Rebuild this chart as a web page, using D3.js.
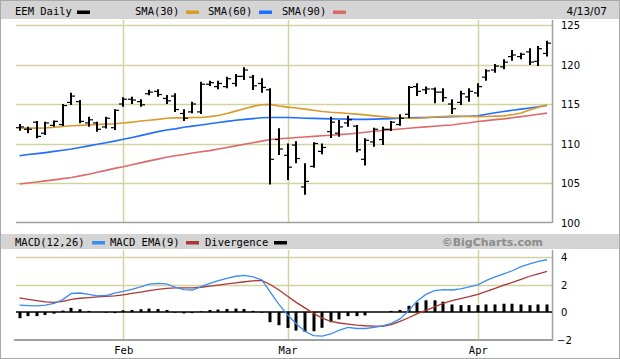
<!DOCTYPE html>
<html><head><meta charset="utf-8">
<script src="https://cdn.jsdelivr.net/npm/d3@7"></script>
<style>html,body{margin:0;padding:0;background:#fff}svg{display:block}</style>
</head><body><svg id="c" width="620" height="359"></svg>
<script>
// ---------- DATA ----------
const dates = [
 "2007-01-16","2007-01-17","2007-01-18","2007-01-19","2007-01-22","2007-01-23","2007-01-24","2007-01-25","2007-01-26","2007-01-29","2007-01-30","2007-01-31",
 "2007-02-01","2007-02-02","2007-02-05","2007-02-06","2007-02-07","2007-02-08","2007-02-09","2007-02-12","2007-02-13","2007-02-14","2007-02-15","2007-02-16","2007-02-20","2007-02-21","2007-02-22","2007-02-23","2007-02-26","2007-02-27","2007-02-28",
 "2007-03-01","2007-03-02","2007-03-05","2007-03-06","2007-03-07","2007-03-08","2007-03-09","2007-03-12","2007-03-13","2007-03-14","2007-03-15","2007-03-16","2007-03-19","2007-03-20","2007-03-21","2007-03-22","2007-03-23","2007-03-26","2007-03-27","2007-03-28","2007-03-29","2007-03-30",
 "2007-04-02","2007-04-03","2007-04-04","2007-04-05","2007-04-09","2007-04-10","2007-04-11","2007-04-12","2007-04-13"];
const open  = [112.0,111.8,112.7,111.3,112.3,112.4,115.2,115.3,112.6,112.6,112.1,112.0,
 115.0,115.6,115.3,116.3,116.6,115.7,116.0,113.8,114.0,114.0,117.5,117.2,117.2,117.6,118.5,118.4,117.6,116.8,110.5,
 108.5,109.8,104.5,107.1,109.0,111.5,111.3,112.6,112.2,108.0,110.2,110.5,111.8,112.4,113.7,117.2,116.8,116.9,116.5,115.0,115.2,115.9,
 116.4,118.4,119.3,119.7,121.0,121.0,121.6,120.4,121.4];
const high  = [112.47,112.13,112.85,112.76,112.9,115.0,116.43,115.5,113.4,112.76,113.4,114.33,
 115.85,115.92,115.6,116.8,116.86,116.14,116.35,114.33,115.3,117.82,117.95,117.95,118.46,118.8,119.65,118.67,118.25,117.0,111.92,
 110.0,110.3,107.5,110.15,110.0,113.4,112.97,113.52,112.34,110.66,112.0,112.13,112.85,113.7,117.28,117.62,117.2,117.1,116.99,115.6,116.68,116.99,
 117.62,119.39,120.06,120.66,121.84,121.49,122.05,122.34,123.0];
const low   = [111.6,111.29,110.66,111.08,112.13,112.2,114.87,112.56,112.13,111.5,111.9,111.7,
 114.66,115.0,114.66,116.1,115.92,115.0,114.0,112.85,113.82,113.73,117.28,116.86,116.99,117.2,118.04,116.77,116.43,104.8,108.54,
 105.38,107.5,103.5,106.94,108.63,110.7,110.86,112.13,108.9,107.2,109.6,109.8,111.58,112.25,113.19,116.01,116.27,115.08,115.3,113.73,114.87,115.3,
 115.92,117.95,118.96,119.39,120.48,120.66,119.94,119.8,121.0];
const close = [112.1,111.8,110.9,112.6,112.8,114.8,116.0,112.8,113.0,111.8,113.2,114.2,
 115.6,115.5,114.9,116.5,116.2,115.4,114.3,113.2,115.0,117.5,117.7,117.6,118.2,118.5,119.3,117.3,117.1,108.0,109.3,
 107.0,108.1,105.2,110.0,109.5,112.7,112.1,113.0,109.2,110.4,111.8,111.8,112.7,113.2,117.1,116.6,116.9,116.5,115.8,114.4,116.3,116.6,
 117.2,119.2,119.8,120.3,121.2,121.3,120.3,122.0,122.7];
const sma30 = [111.95,111.95,111.95,111.98,112.05,112.15,112.25,112.3,112.35,112.4,112.45,112.5,
 112.6,112.7,112.85,112.95,113.05,113.2,113.25,113.25,113.3,113.3,113.4,113.55,113.8,114.1,114.4,114.7,114.9,114.95,114.75,
 114.6,114.5,114.35,114.2,114.05,113.95,113.9,113.8,113.72,113.62,113.5,113.4,113.3,113.25,113.2,113.2,113.25,113.35,113.42,113.48,113.45,113.42,
 113.4,113.42,113.46,113.5,113.65,113.85,114.25,114.6,114.9];
const sma60 = [108.45,108.6,108.72,108.85,109.0,109.15,109.3,109.5,109.7,109.9,110.1,110.3,
 110.53,110.75,111.0,111.25,111.5,111.7,111.85,112.05,112.2,112.35,112.5,112.65,112.8,112.95,113.05,113.15,113.25,113.3,113.3,
 113.3,113.25,113.2,113.18,113.15,113.12,113.1,113.08,113.06,113.06,113.08,113.12,113.15,113.2,113.25,113.28,113.3,113.32,113.36,113.4,113.42,113.45,
 113.5,113.7,113.9,114.05,114.2,114.35,114.5,114.65,114.8];
const sma90 = [104.88,105.0,105.13,105.27,105.4,105.55,105.7,105.9,106.1,106.35,106.6,106.85,
 107.06,107.3,107.55,107.8,108.02,108.25,108.45,108.6,108.8,108.95,109.1,109.3,109.5,109.7,109.9,110.1,110.3,110.5,110.6,
 110.67,110.75,110.82,110.9,110.98,111.05,111.12,111.2,111.3,111.42,111.55,111.65,111.75,111.84,111.93,112.02,112.1,112.18,112.27,112.35,112.5,112.62,
 112.78,112.9,113.02,113.12,113.25,113.4,113.55,113.7,113.85];
const macd = [0.5,0.47,0.44,0.5,0.62,0.9,1.35,1.38,1.28,1.18,1.2,1.38,
 1.5,1.65,1.82,2.02,2.08,2.05,1.8,1.63,1.6,1.85,2.08,2.28,2.45,2.6,2.67,2.55,2.35,1.45,0.55,
 -0.2,-0.85,-1.4,-1.72,-1.75,-1.6,-1.32,-1.12,-1.2,-1.2,-1.12,-1.0,-0.82,-0.5,0.1,0.8,1.28,1.55,1.62,1.6,1.68,1.82,
 1.98,2.3,2.56,2.78,3.0,3.3,3.5,3.68,3.8];
const signal = [1.02,0.92,0.83,0.74,0.7,0.78,0.92,1.0,1.05,1.1,1.13,1.18,
 1.25,1.35,1.45,1.55,1.65,1.72,1.76,1.75,1.75,1.8,1.88,1.96,2.05,2.12,2.2,2.27,2.3,2.0,1.6,
 1.15,0.7,0.3,-0.1,-0.45,-0.68,-0.8,-0.88,-0.95,-1.0,-1.03,-1.05,-0.92,-0.68,-0.42,-0.12,0.12,0.38,0.62,0.82,0.98,1.12,
 1.28,1.5,1.72,1.95,2.15,2.38,2.6,2.78,2.95];
const divergence = [-0.45,-0.3,-0.3,-0.22,-0.12,0.1,0.3,0.2,0.08,0.0,-0.05,-0.08,
 0.12,0.15,0.2,0.25,0.22,0.15,-0.05,-0.1,-0.08,0.05,0.15,0.18,0.22,0.25,0.22,0.08,-0.05,-0.74,-0.96,
 -1.16,-1.35,-1.45,-1.4,-1.15,-0.74,-0.54,-0.3,-0.3,-0.25,0.0,0.0,0.08,0.15,0.45,0.7,0.85,0.85,0.75,0.55,0.5,0.5,
 0.5,0.55,0.55,0.6,0.6,0.55,0.5,0.55,0.55];
const priceTicks = [100,105,110,115,120,125];
const macdTicks = [-2,0,2,4];
const monthLabels = ["Feb","Mar","Apr"];
const titleText = "EEM Daily";
const dateText = "4/13/07";
const smaNames = ["SMA(30)","SMA(60)","SMA(90)"];
const macdNames = ["MACD(12,26)","MACD EMA(9)","Divergence"];

// ---------- DRAW ----------
const svg = d3.select("#c");
const mono = "'DejaVu Sans Mono', monospace";
const sans = "'DejaVu Sans', Verdana, sans-serif";
const C = {orange:"#d99a2b", blue:"#1f6fff", red:"#dc6a6a", mblue:"#3b8cf0", mred:"#a83838", grid:"#d2d2a0", axis:"#a0a0a0"};

svg.append("rect").attr("x",0.5).attr("y",0.5).attr("width",619).attr("height",358).attr("fill","#fff").attr("stroke","#a8a8a8");

const x = d3.scalePoint().domain(dates).range([19.5,547]);
const yP = d3.scaleLinear().domain([100,125]).range([222.5,25]);
const yM = d3.scaleLinear().domain([-2,4]).range([339.5,257]);
const L = 16, R = 552;
const parse = d3.timeParse("%Y-%m-%d");
const monthStarts = dates.filter((d,i)=> i>0 && parse(d).getMonth() !== parse(dates[i-1]).getMonth());

// header bars
svg.append("rect").attr("x",1).attr("y",1).attr("width",618).attr("height",18).attr("fill","#d4d4d4");
svg.append("rect").attr("x",1).attr("y",234).attr("width",618).attr("height",15).attr("fill","#d4d4d4");

// price grid
const gP = svg.append("g");
gP.selectAll("line.h").data(priceTicks.filter(t=>t>100)).join("line")
  .attr("x1",L).attr("x2",R).attr("y1",d=>Math.round(yP(d))+0.5).attr("y2",d=>Math.round(yP(d))+0.5)
  .attr("stroke",C.grid).attr("stroke-width",1.5);
gP.selectAll("line.v").data(monthStarts).join("line")
  .attr("x1",d=>Math.round(x(d))+0.5).attr("x2",d=>Math.round(x(d))+0.5).attr("y1",20).attr("y2",222)
  .attr("stroke",C.grid).attr("stroke-width",1.5);
// axes
svg.append("line").attr("x1",L).attr("x2",R).attr("y1",222.5).attr("y2",222.5).attr("stroke",C.axis).attr("stroke-width",1.5);
svg.append("line").attr("x1",R+0.5).attr("x2",R+0.5).attr("y1",20).attr("y2",223).attr("stroke",C.axis).attr("stroke-width",1.5);

const axP = d3.axisRight(yP).tickValues(priceTicks).tickSize(0).tickPadding(0);
const gAx = svg.append("g").attr("transform",`translate(561,0)`).call(axP);
gAx.select(".domain").remove();
gAx.selectAll("text").attr("font-family",sans).attr("font-size",10).attr("fill","#000").attr("dy","0.35em");

// SMA lines
const lineOf = (arr, y) => d3.line().x((d,i)=>x(dates[i])).y(d=>y(d))(arr);
[[sma90,C.red],[sma60,C.blue],[sma30,C.orange]].forEach(([a,c])=>{
  svg.append("path").attr("d",lineOf(a,yP)).attr("fill","none").attr("stroke",c).attr("stroke-width",1.6);
});

// OHLC bars
const bars = svg.append("g").attr("stroke","#000");
dates.forEach((d,i)=>{
  const cx = Math.round(x(d));
  bars.append("line").attr("x1",cx).attr("x2",cx).attr("y1",yP(high[i])).attr("y2",yP(low[i])).attr("stroke-width",2);
  bars.append("line").attr("x1",cx-4).attr("x2",cx).attr("y1",yP(open[i])).attr("y2",yP(open[i])).attr("stroke-width",1.2);
  bars.append("line").attr("x1",cx).attr("x2",cx+4).attr("y1",yP(close[i])).attr("y2",yP(close[i])).attr("stroke-width",1.2);
});

// MACD grid
svg.selectAll("line.mh").data(macdTicks.filter(t=>t>0)).join("line")
  .attr("x1",L).attr("x2",R).attr("y1",d=>Math.round(yM(d))+0.5).attr("y2",d=>Math.round(yM(d))+0.5)
  .attr("stroke",C.grid).attr("stroke-width",1.5);
svg.selectAll("line.mv").data(monthStarts).join("line")
  .attr("x1",d=>Math.round(x(d))+0.5).attr("x2",d=>Math.round(x(d))+0.5).attr("y1",250).attr("y2",339)
  .attr("stroke",C.grid).attr("stroke-width",1.5);
svg.append("line").attr("x1",L-2).attr("x2",R).attr("y1",340).attr("y2",340).attr("stroke",C.axis).attr("stroke-width",2);
svg.append("line").attr("x1",R+0.5).attr("x2",R+0.5).attr("y1",250).attr("y2",341).attr("stroke",C.axis).attr("stroke-width",1.5);

// divergence histogram
svg.append("g").selectAll("rect").data(divergence).join("rect")
  .attr("x",(d,i)=>Math.round(x(dates[i]))-1.5).attr("width",3)
  .attr("y",d=>Math.min(yM(0),yM(d))).attr("height",d=>Math.abs(yM(d)-yM(0)))
  .attr("fill","#000");
svg.append("line").attr("x1",L).attr("x2",R).attr("y1",yM(0)).attr("y2",yM(0)).attr("stroke","#000").attr("stroke-width",1.5);
svg.append("path").attr("d",lineOf(signal,yM)).attr("fill","none").attr("stroke",C.mred).attr("stroke-width",1.3);
svg.append("path").attr("d",lineOf(macd,yM)).attr("fill","none").attr("stroke",C.mblue).attr("stroke-width",1.3);

const axM = d3.axisRight(yM).tickValues(macdTicks).tickSize(0).tickPadding(0).tickFormat(d=>d<0?"\u2212"+(-d):d);
const gAm = svg.append("g").attr("transform",`translate(561,0)`).call(axM);
gAm.select(".domain").remove();
gAm.selectAll("text").attr("font-family",sans).attr("font-size",10).attr("fill","#000").attr("dy","0.35em");
gAm.selectAll("text").filter(d=>d<0).attr("dx",-4);

// month labels
const axX = d3.axisBottom(x).tickValues(monthStarts).tickSize(0).tickPadding(0)
  .tickFormat(d=>monthLabels[monthStarts.indexOf(d)]);
const gX = svg.append("g").attr("transform","translate(0,347)").call(axX);
gX.select(".domain").remove();
gX.selectAll("text").attr("font-family",mono).attr("font-size",10.5).attr("fill","#000").attr("dy","0.71em");

// header legend
const hdr = svg.append("g").attr("font-family",mono).attr("font-size",10.5).attr("fill","#000");
hdr.append("text").attr("x",15).attr("y",15).text(titleText);
hdr.append("rect").attr("x",77).attr("y",10.5).attr("width",13).attr("height",3.5).attr("fill","#000");
const smaCols = [C.orange,C.blue,C.red];
const smaX = [135,208,282];
smaNames.forEach((n,k)=>{
  hdr.append("text").attr("x",smaX[k]).attr("y",15).text(n);
  hdr.append("rect").attr("x",smaX[k]+51).attr("y",10.5).attr("width",13).attr("height",3.5).attr("fill",smaCols[k]);
});
svg.append("text").attr("x",607).attr("y",14.5).attr("text-anchor","end").attr("font-family",sans).attr("font-size",10.5).text(dateText);

// MACD legend
const mh = svg.append("g").attr("font-family",mono).attr("font-size",10.5).attr("fill","#000");
const mX = [15,110,205];
const mW = [77,76,69];
const mCols = [C.mblue,C.mred,"#000"];
macdNames.forEach((n,k)=>{
  mh.append("text").attr("x",mX[k]).attr("y",246).text(n);
  mh.append("rect").attr("x",mX[k]+mW[k]).attr("y",241).attr("width",13).attr("height",3.5).attr("fill",mCols[k]);
});
svg.append("text").attr("x",543).attr("y",246).attr("text-anchor","end").attr("font-family",sans).attr("font-weight","bold")
  .attr("font-size",11).attr("fill","#8c8c8c").text("\u00A9BigCharts.com");
</script></body></html>
